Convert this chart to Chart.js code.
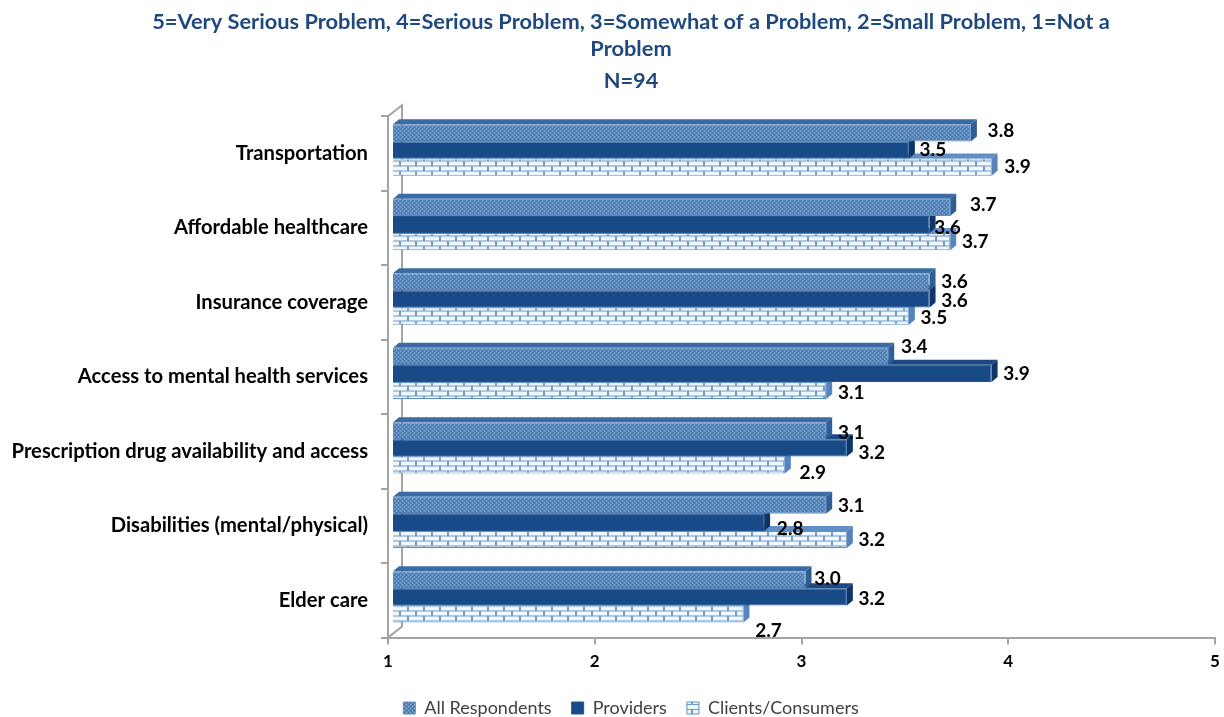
<!DOCTYPE html>
<html>
<head>
<meta charset="utf-8">
<title>Problem ratings</title>
<script src="https://cdn.jsdelivr.net/npm/chart.js@4/dist/chart.umd.min.js"></script>
<style>
    html, body { margin: 0; padding: 0; background: #fff; overflow: hidden; }
    #wrap { position: absolute; left: 0; top: 0; width: 1262px; height: 727px; }
</style>
</head>
<body>
<div id="wrap"><canvas id="chart"></canvas></div>
<script>
const categories = [
    'Transportation',
    'Affordable healthcare',
    'Insurance coverage',
    'Access to mental health services',
    'Prescription drug availability and access',
    'Disabilities (mental/physical)',
    'Elder care'
];
const allRespondents = [3.8, 3.7, 3.6, 3.4, 3.1, 3.1, 3.0];
const providers = [3.5, 3.6, 3.6, 3.9, 3.2, 2.8, 3.2];
const clients = [3.9, 3.7, 3.5, 3.1, 2.9, 3.2, 2.7];
const titleLines = [
    '5=Very Serious Problem, 4=Serious Problem, 3=Somewhat of a Problem, 2=Small Problem, 1=Not a',
    'Problem'
];
const subtitleText = 'N=94';

const FONT = "Lato, 'Open Sans', sans-serif";
const AXIS_GREY = '#a3a3a3';

// tile helpers for the Excel style hatch fills
const makeTile = (w, h, draw) => {
    const c = document.createElement('canvas');
    c.width = w;
    c.height = h;
    draw(c.getContext('2d'));
    return c;
};

const dotTile = makeTile(4, 4, g => {
    g.fillStyle = '#5587bd';
    g.fillRect(0, 0, 4, 4);
    g.fillStyle = '#3a6ca4';
    g.fillRect(0, 0, 1, 1);
    g.fillRect(2, 2, 1, 1);
    g.fillStyle = '#9dbbdc';
    g.fillRect(2, 0, 1, 1);
    g.fillRect(0, 2, 1, 1);
});

const brickTile = makeTile(16, 10, g => {
    g.fillStyle = '#f2f7fc';
    g.fillRect(0, 0, 16, 10);
    g.fillStyle = '#6f9bcb';
    g.fillRect(0, 4, 16, 1);
    g.fillRect(0, 9, 16, 1);
    g.fillRect(3, 0, 2, 4);
    g.fillRect(11, 5, 2, 4);
});

const ctxPattern = document.createElement('canvas').getContext('2d');
const dotFill = ctxPattern.createPattern(dotTile, 'repeat');
const brickFill = ctxPattern.createPattern(brickTile, 'repeat');

const depthX = 6;
const depthY = 5;
const faceColors = [
    { top: '#3a6ba4', side: '#2f5f97' },
    { top: '#1a4a85', side: '#0f3566' },
    { top: '#5f8fc4', side: '#5585bc' }
];

// small manual label shifts, same layout as the original chart [series, category, dx, dy]
const labelShifts = [
    [0, 0, 5, -2], [1, 0, -1, 0], [2, 0, 1, 0],
    [0, 1, 8, -2], [1, 1, -7, 3],
    [1, 2, 0, 2], [2, 2, 0, 2],
    [0, 3, 1, -9], [2, 3, 0, 2],
    [0, 4, 0, 2], [1, 4, 0, 5], [2, 4, 3, 8],
    [1, 5, 1, 6], [0, 5, 0, 1],
    [0, 6, -3, -1], [1, 6, 0, 2], [2, 6, 0, 17]
];

const face = (ctx, pts, fill) => {
    ctx.beginPath();
    pts.forEach((p, i) => i ? ctx.lineTo(p[0], p[1]) : ctx.moveTo(p[0], p[1]));
    ctx.closePath();
    ctx.fillStyle = fill;
    ctx.fill();
};

const depthPlugin = {
    id: 'depthPlugin',
    afterLayout(chart) {
        // the long category label needs more room than the left padding leaves
        chart.scales.y.left = 0;
    },
    beforeDatasetsDraw(chart) {
        const { ctx, chartArea: a } = chart;
        const wx = 14, wy = 11;

        // back wall of the 3D box
        ctx.save();
        ctx.strokeStyle = AXIS_GREY;
        ctx.lineWidth = 2;
        ctx.beginPath();
        ctx.moveTo(a.left, a.top);
        ctx.lineTo(a.left + wx, a.top - wy);
        ctx.lineTo(a.left + wx, a.bottom - wy);
        ctx.lineTo(a.left, a.bottom);
        ctx.stroke();
        ctx.restore();

        // bars sit a little inside the box
        ctx.save();
        ctx.translate(4, -3.5);

        for (let d = chart.data.datasets.length - 1; d >= 0; d--) {
            chart.getDatasetMeta(d).data.forEach(bar => {
                const top = bar.y - bar.height / 2;
                const bottom = bar.y + bar.height / 2;
                const start = bar.base;
                const end = bar.x;
                face(ctx, [
                    [start, top], [start + depthX, top - depthY],
                    [end + depthX, top - depthY], [end, top]
                ], faceColors[d].top);
                face(ctx, [
                    [end, top], [end + depthX, top - depthY],
                    [end + depthX, bottom - depthY], [end, bottom]
                ], faceColors[d].side);
            });
        }
    },
    afterDatasetsDraw(chart) {
        const { ctx } = chart;
        ctx.restore();

        ctx.save();
        ctx.font = 'bold 19px ' + FONT;
        ctx.fillStyle = '#000';
        ctx.textAlign = 'center';
        ctx.textBaseline = 'middle';
        chart.data.datasets.forEach((ds, d) => {
            chart.getDatasetMeta(d).data.forEach((bar, i) => {
                const shift = labelShifts.find(s => s[0] === d && s[1] === i);
                const dx = shift ? shift[2] : 0;
                const dy = shift ? shift[3] : 0;
                ctx.fillText(ds.data[i].toFixed(1), bar.x + 4 + 25 + dx, bar.y - 3.5 + dy);
            });
        });
        ctx.restore();
    }
};

const renderChart = () => {
    new Chart(document.getElementById('chart'), {
        type: 'bar',
        plugins: [depthPlugin],
        data: {
            labels: categories,
            datasets: [
                { label: 'All Respondents', data: allRespondents, base: 1, backgroundColor: dotFill, borderColor: '#5f8fc4', borderWidth: 1 },
                { label: 'Providers', data: providers, base: 1, backgroundColor: '#174a87', borderColor: '#1f5596', borderWidth: 1 },
                { label: 'Clients/Consumers', data: clients, base: 1, backgroundColor: brickFill, borderColor: '#5f8fc4', borderWidth: 1 }
            ]
        },
        options: {
            indexAxis: 'y',
            responsive: true,
            maintainAspectRatio: false,
            animation: false,
            barPercentage: 1,
            categoryPercentage: 0.69,
            layout: { padding: { left: 47, right: 47, top: 8, bottom: 0 } },
            plugins: {
                title: {
                    display: true,
                    text: titleLines,
                    color: '#1f497d',
                    font: { family: FONT, size: 21.8, weight: 'bold', lineHeight: 1.24 },
                    padding: { top: 0, bottom: 0 }
                },
                subtitle: {
                    display: true,
                    text: subtitleText,
                    color: '#1f497d',
                    font: { family: FONT, size: 21.8, weight: 'bold' },
                    padding: { top: 6, bottom: 22 }
                },
                legend: {
                    position: 'bottom',
                    labels: {
                        boxWidth: 12,
                        boxHeight: 12,
                        padding: 20,
                        color: '#404040',
                        font: { family: FONT, size: 18 }
                    }
                },
                tooltip: { enabled: false }
            },
            scales: {
                x: {
                    min: 1,
                    max: 5,
                    ticks: { stepSize: 1, color: '#000', padding: 7, font: { family: FONT, size: 17, weight: 'bold' } },
                    grid: { drawOnChartArea: false, color: AXIS_GREY, tickLength: 7, lineWidth: 2 },
                    border: { color: AXIS_GREY, width: 2 }
                },
                y: {
                    afterFit: scale => { scale.width = 341; },
                    ticks: { color: '#000', padding: 13, font: { family: FONT, size: 20.2, weight: 'bold' } },
                    grid: { drawOnChartArea: false, color: AXIS_GREY, tickLength: 7, lineWidth: 2 },
                    border: { color: AXIS_GREY, width: 2 }
                }
            }
        }
    });
};

renderChart();
</script>
</body>
</html>
